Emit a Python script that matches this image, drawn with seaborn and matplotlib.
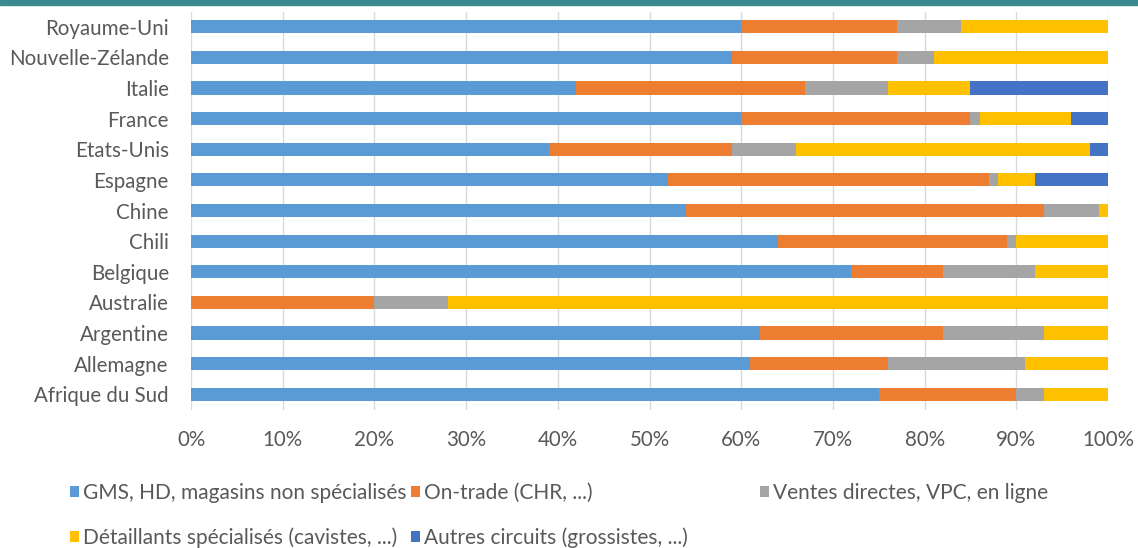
import matplotlib
matplotlib.use("Agg")
import matplotlib.pyplot as plt
from matplotlib.patches import Patch, Rectangle
import pandas as pd
import seaborn as sns

# Distribution channels by country (% of volume)
countries = ["Royaume-Uni", "Nouvelle-Zélande", "Italie", "France", "Etats-Unis",
             "Espagne", "Chine", "Chili", "Belgique", "Australie", "Argentine",
             "Allemagne", "Afrique du Sud"]
gms = [60, 59, 42, 60, 39, 52, 54, 64, 72, 0, 62, 61, 75]
on_trade = [17, 18, 25, 25, 20, 35, 39, 25, 10, 20, 20, 15, 15]
ventes_directes = [7, 4, 9, 1, 7, 1, 6, 1, 10, 8, 11, 15, 3]
detaillants = [16, 19, 9, 10, 32, 4, 1, 10, 8, 72, 7, 9, 7]
autres = [0, 0, 15, 4, 2, 8, 0, 0, 0, 0, 0, 0, 0]

series_names = ["GMS, HD, magasins non spécialisés", "On-trade (CHR, ...)",
                "Ventes directes, VPC, en ligne", "Détaillants spécialisés (cavistes, ...)",
                "Autres circuits (grossistes, ...)"]
series_values = [gms, on_trade, ventes_directes, detaillants, autres]
colors = ["#5B9BD5", "#ED7D31", "#A5A5A5", "#FFC000", "#4472C4"]
tick_labels = [f"{v}%" for v in range(0, 101, 10)]

sns.set_style("white")
plt.rcParams["font.family"] = ["Lato", "DejaVu Sans"]
text_color = "#595959"

df = pd.DataFrame({"pays": countries})
for name, vals in zip(series_names, series_values):
    df[name] = vals
cum = df[series_names].cumsum(axis=1)

W, H = 1138, 548
fig = plt.figure(figsize=(W / 100, H / 100), dpi=100)
ax = fig.add_axes([191 / W, 1 - 409.5 / H, 917 / W, 398 / H])

# Draw the cumulative totals from the last segment back to the first so each
# shorter bar sits on top of the longer one, giving stacked segments.
for name, color in reversed(list(zip(series_names, colors))):
    sns.barplot(x=cum[name], y=df["pays"], orient="h", color=color,
                width=0.43, saturation=1, ax=ax, zorder=3, linewidth=0)

ax.set_xlim(0, 100)
ax.set_ylim(12.5, -0.5)
ax.set_xticks(range(0, 101, 10))
ax.set_xticklabels(tick_labels)
ax.set_xlabel("")
ax.set_ylabel("")
ax.grid(axis="x", color="#d9d9d9", linewidth=1, zorder=0)
ax.grid(axis="y", visible=False)
for s in ax.spines.values():
    s.set_visible(False)
ax.tick_params(axis="both", length=0, labelsize=14.8, colors=text_color)
ax.tick_params(axis="x", pad=15)
ax.tick_params(axis="y", pad=16)

# Header band
fig.patches.append(Rectangle((0, 1 - 5 / H), 1, 5 / H, transform=fig.transFigure,
                             color="#3A8A8F", zorder=5))

# Legend laid out on a three-column grid, row by row
handles = [Patch(facecolor=c, edgecolor="none") for c in colors]
columns = [([0, 3], 70), ([1, 4], 411), ([2], 760)]
for idx, x0 in columns:
    fig.legend([handles[i] for i in idx], [series_names[i] for i in idx],
               loc="upper left", bbox_to_anchor=(x0 / W, 1 - 483 / H),
               frameon=False, fontsize=15, labelcolor=text_color,
               handlelength=0.43, handleheight=0.43, handletextpad=0.2,
               labelspacing=1.15, borderaxespad=0, borderpad=0)

fig.savefig("out.png", dpi=100, facecolor="white")
